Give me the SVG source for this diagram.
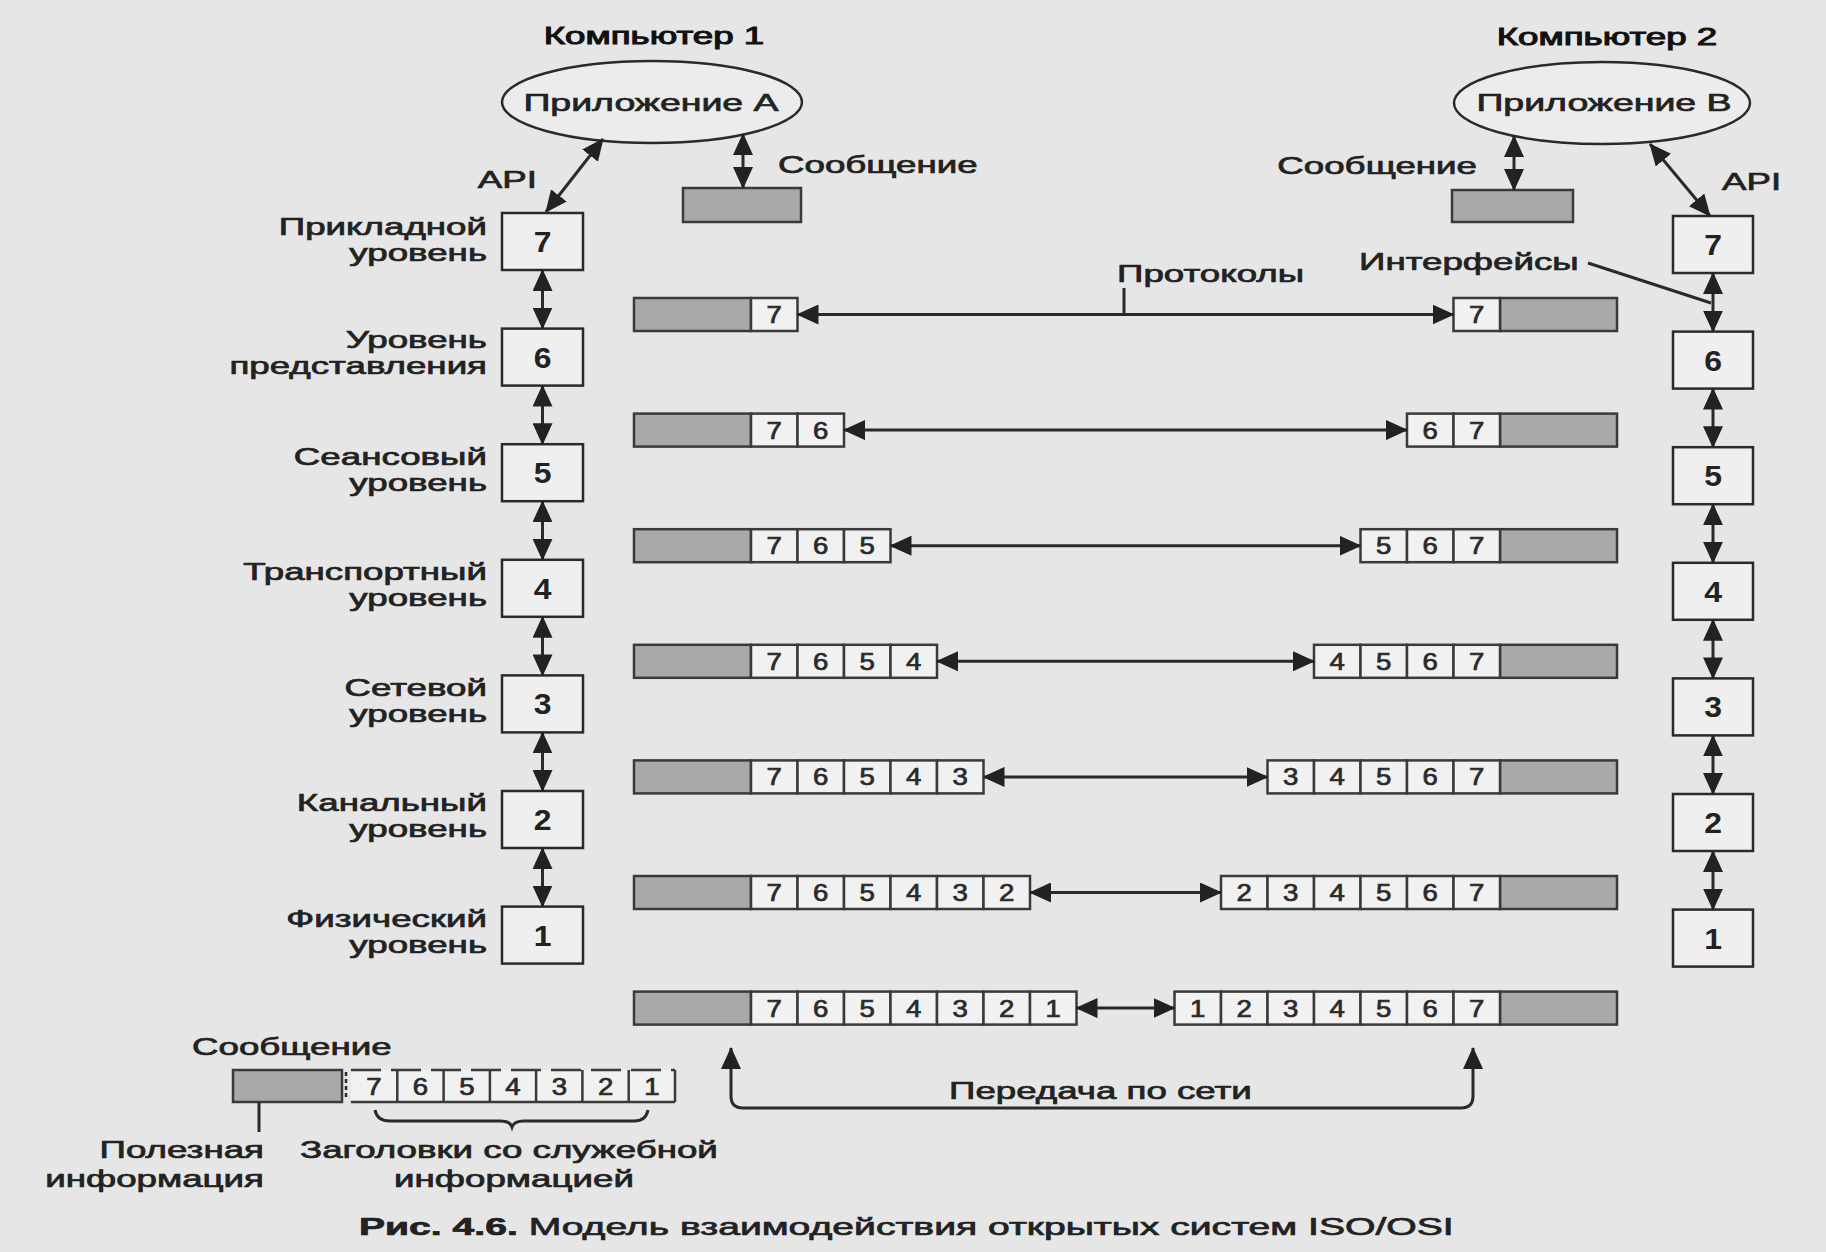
<svg xmlns="http://www.w3.org/2000/svg" width="1826" height="1252" viewBox="0 0 1826 1252">
<style>
.t{font-family:"Liberation Sans",Arial,sans-serif;font-size:24px;fill:#222;stroke:#222;stroke-width:0.7}
.tt{font-family:"Liberation Sans",Arial,sans-serif;font-size:24px;fill:#111;stroke:#111;stroke-width:1}
.bd{font-family:"Liberation Sans",Arial,sans-serif;font-size:29px;font-weight:bold;fill:#222;text-anchor:middle}
.d{font-family:"Liberation Sans",Arial,sans-serif;font-size:23px;fill:#2a2a2a;stroke:#2a2a2a;stroke-width:0.7;text-anchor:middle}
.box{fill:#efefef;stroke:#2a2a2a;stroke-width:2.5}
.gray{fill:#a9a9a9;stroke:#3a3a3a;stroke-width:2.5}
.cell{fill:#f1f1f1;stroke:#3a3a3a;stroke-width:2.5}
.ell{fill:#ececec;stroke:#2a2a2a;stroke-width:2.5}
.ln{fill:none;stroke:#2a2a2a;stroke-width:3}
.ar{fill:none;stroke:#2a2a2a;stroke-width:3;marker-start:url(#ah);marker-end:url(#ah)}
</style>
<defs>
<marker id="ah" viewBox="0 0 22 20" refX="21" refY="10" markerWidth="22" markerHeight="20" markerUnits="userSpaceOnUse" orient="auto-start-reverse"><path d="M0,0 L22,10 L0,20 z" fill="#222"/></marker>
</defs>
<rect x="0" y="0" width="1826" height="1252" fill="#e6e6e6"/>

<!-- Titles -->
<g id="titles">
<text class="tt" transform="translate(654,44) scale(1.53,1)" text-anchor="middle">Компьютер 1</text>
<text class="tt" transform="translate(1607,45) scale(1.53,1)" text-anchor="middle">Компьютер 2</text>
</g>

<!-- Applications -->
<g id="appA">
<ellipse class="ell" cx="652" cy="102" rx="150" ry="41"/>
<text class="t" transform="translate(651,111) scale(1.53,1)" text-anchor="middle" style="font-size:24.5px">Приложение A</text>
</g>
<g id="appB">
<ellipse class="ell" cx="1602" cy="103" rx="148" ry="41"/>
<text class="t" transform="translate(1604,111) scale(1.53,1)" text-anchor="middle" style="font-size:24.5px">Приложение B</text>
</g>

<!-- Messages on top -->
<g id="msgA">
<rect class="gray" x="683" y="188" width="118" height="34"/>
<text class="t" transform="translate(778,173) scale(1.53,1)">Сообщение</text>
</g>
<g id="msgB">
<rect class="gray" x="1452" y="190" width="121" height="32"/>
<text class="t" transform="translate(1477,174) scale(1.53,1)" text-anchor="end">Сообщение</text>
</g>

<g id="labels">
<text class="t" transform="translate(537,188) scale(1.53,1)" text-anchor="end">API</text>
<text class="t" transform="translate(1722,190) scale(1.53,1)">API</text>
<text class="t" transform="translate(1117,282) scale(1.53,1)">Протоколы</text>
<text class="t" transform="translate(1359,270) scale(1.53,1)">Интерфейсы</text>
</g>

<!-- Computer 1 stack -->
<g id="c1-l7"><rect class="box" x="502" y="213" width="81" height="57"/><text class="bd" transform="translate(542.5,252) scale(1.1,1)">7</text>
<text class="t" transform="translate(487,235) scale(1.53,1)" text-anchor="end">Прикладной</text><text class="t" transform="translate(487,261) scale(1.53,1)" text-anchor="end">уровень</text></g>
<g id="c1-l6"><rect class="box" x="502" y="328.6" width="81" height="57"/><text class="bd" transform="translate(542.5,367.6) scale(1.1,1)">6</text>
<text class="t" transform="translate(487,348) scale(1.53,1)" text-anchor="end">Уровень</text><text class="t" transform="translate(487,374) scale(1.53,1)" text-anchor="end">представления</text></g>
<g id="c1-l5"><rect class="box" x="502" y="444.2" width="81" height="57"/><text class="bd" transform="translate(542.5,483.2) scale(1.1,1)">5</text>
<text class="t" transform="translate(487,465) scale(1.53,1)" text-anchor="end">Сеансовый</text><text class="t" transform="translate(487,491) scale(1.53,1)" text-anchor="end">уровень</text></g>
<g id="c1-l4"><rect class="box" x="502" y="559.8" width="81" height="57"/><text class="bd" transform="translate(542.5,598.8) scale(1.1,1)">4</text>
<text class="t" transform="translate(487,580) scale(1.53,1)" text-anchor="end">Транспортный</text><text class="t" transform="translate(487,606) scale(1.53,1)" text-anchor="end">уровень</text></g>
<g id="c1-l3"><rect class="box" x="502" y="675.4" width="81" height="57"/><text class="bd" transform="translate(542.5,714.4) scale(1.1,1)">3</text>
<text class="t" transform="translate(487,696) scale(1.53,1)" text-anchor="end">Сетевой</text><text class="t" transform="translate(487,722) scale(1.53,1)" text-anchor="end">уровень</text></g>
<g id="c1-l2"><rect class="box" x="502" y="791" width="81" height="57"/><text class="bd" transform="translate(542.5,830) scale(1.1,1)">2</text>
<text class="t" transform="translate(487,811) scale(1.53,1)" text-anchor="end">Канальный</text><text class="t" transform="translate(487,837) scale(1.53,1)" text-anchor="end">уровень</text></g>
<g id="c1-l1"><rect class="box" x="502" y="906.6" width="81" height="57"/><text class="bd" transform="translate(542.5,945.6) scale(1.1,1)">1</text>
<text class="t" transform="translate(487,927) scale(1.53,1)" text-anchor="end">Физический</text><text class="t" transform="translate(487,953) scale(1.53,1)" text-anchor="end">уровень</text></g>

<!-- Computer 2 stack -->
<g id="c2-l7"><rect class="box" x="1673" y="216" width="80" height="57"/><text class="bd" transform="translate(1713,255) scale(1.1,1)">7</text></g>
<g id="c2-l6"><rect class="box" x="1673" y="331.6" width="80" height="57"/><text class="bd" transform="translate(1713,370.6) scale(1.1,1)">6</text></g>
<g id="c2-l5"><rect class="box" x="1673" y="447.2" width="80" height="57"/><text class="bd" transform="translate(1713,486.2) scale(1.1,1)">5</text></g>
<g id="c2-l4"><rect class="box" x="1673" y="562.8" width="80" height="57"/><text class="bd" transform="translate(1713,601.8) scale(1.1,1)">4</text></g>
<g id="c2-l3"><rect class="box" x="1673" y="678.4" width="80" height="57"/><text class="bd" transform="translate(1713,717.4) scale(1.1,1)">3</text></g>
<g id="c2-l2"><rect class="box" x="1673" y="794" width="80" height="57"/><text class="bd" transform="translate(1713,833) scale(1.1,1)">2</text></g>
<g id="c2-l1"><rect class="box" x="1673" y="909.6" width="80" height="57"/><text class="bd" transform="translate(1713,948.6) scale(1.1,1)">1</text></g>

<!-- Packets, left side -->
<g id="pkt-left">
<g><rect class="gray" x="634" y="298" width="117" height="33"/><rect class="cell" x="751" y="298" width="46.5" height="33"/>
<text class="d" transform="translate(774.25,323) scale(1.2,1)">7</text></g>
<g><rect class="gray" x="634" y="413.6" width="117" height="33"/><rect class="cell" x="751" y="413.6" width="46.5" height="33"/><rect class="cell" x="797.5" y="413.6" width="46.5" height="33"/>
<text class="d" transform="translate(774.25,438.6) scale(1.2,1)">7</text><text class="d" transform="translate(820.75,438.6) scale(1.2,1)">6</text></g>
<g><rect class="gray" x="634" y="529.2" width="117" height="33"/><rect class="cell" x="751" y="529.2" width="46.5" height="33"/><rect class="cell" x="797.5" y="529.2" width="46.5" height="33"/><rect class="cell" x="844" y="529.2" width="46.5" height="33"/>
<text class="d" transform="translate(774.25,554.2) scale(1.2,1)">7</text><text class="d" transform="translate(820.75,554.2) scale(1.2,1)">6</text><text class="d" transform="translate(867.25,554.2) scale(1.2,1)">5</text></g>
<g><rect class="gray" x="634" y="644.8" width="117" height="33"/><rect class="cell" x="751" y="644.8" width="46.5" height="33"/><rect class="cell" x="797.5" y="644.8" width="46.5" height="33"/><rect class="cell" x="844" y="644.8" width="46.5" height="33"/><rect class="cell" x="890.5" y="644.8" width="46.5" height="33"/>
<text class="d" transform="translate(774.25,669.8) scale(1.2,1)">7</text><text class="d" transform="translate(820.75,669.8) scale(1.2,1)">6</text><text class="d" transform="translate(867.25,669.8) scale(1.2,1)">5</text><text class="d" transform="translate(913.75,669.8) scale(1.2,1)">4</text></g>
<g><rect class="gray" x="634" y="760.4" width="117" height="33"/><rect class="cell" x="751" y="760.4" width="46.5" height="33"/><rect class="cell" x="797.5" y="760.4" width="46.5" height="33"/><rect class="cell" x="844" y="760.4" width="46.5" height="33"/><rect class="cell" x="890.5" y="760.4" width="46.5" height="33"/><rect class="cell" x="937" y="760.4" width="46.5" height="33"/>
<text class="d" transform="translate(774.25,785.4) scale(1.2,1)">7</text><text class="d" transform="translate(820.75,785.4) scale(1.2,1)">6</text><text class="d" transform="translate(867.25,785.4) scale(1.2,1)">5</text><text class="d" transform="translate(913.75,785.4) scale(1.2,1)">4</text><text class="d" transform="translate(960.25,785.4) scale(1.2,1)">3</text></g>
<g><rect class="gray" x="634" y="876" width="117" height="33"/><rect class="cell" x="751" y="876" width="46.5" height="33"/><rect class="cell" x="797.5" y="876" width="46.5" height="33"/><rect class="cell" x="844" y="876" width="46.5" height="33"/><rect class="cell" x="890.5" y="876" width="46.5" height="33"/><rect class="cell" x="937" y="876" width="46.5" height="33"/><rect class="cell" x="983.5" y="876" width="46.5" height="33"/>
<text class="d" transform="translate(774.25,901) scale(1.2,1)">7</text><text class="d" transform="translate(820.75,901) scale(1.2,1)">6</text><text class="d" transform="translate(867.25,901) scale(1.2,1)">5</text><text class="d" transform="translate(913.75,901) scale(1.2,1)">4</text><text class="d" transform="translate(960.25,901) scale(1.2,1)">3</text><text class="d" transform="translate(1006.75,901) scale(1.2,1)">2</text></g>
<g><rect class="gray" x="634" y="991.6" width="117" height="33"/><rect class="cell" x="751" y="991.6" width="46.5" height="33"/><rect class="cell" x="797.5" y="991.6" width="46.5" height="33"/><rect class="cell" x="844" y="991.6" width="46.5" height="33"/><rect class="cell" x="890.5" y="991.6" width="46.5" height="33"/><rect class="cell" x="937" y="991.6" width="46.5" height="33"/><rect class="cell" x="983.5" y="991.6" width="46.5" height="33"/><rect class="cell" x="1030" y="991.6" width="46.5" height="33"/>
<text class="d" transform="translate(774.25,1016.6) scale(1.2,1)">7</text><text class="d" transform="translate(820.75,1016.6) scale(1.2,1)">6</text><text class="d" transform="translate(867.25,1016.6) scale(1.2,1)">5</text><text class="d" transform="translate(913.75,1016.6) scale(1.2,1)">4</text><text class="d" transform="translate(960.25,1016.6) scale(1.2,1)">3</text><text class="d" transform="translate(1006.75,1016.6) scale(1.2,1)">2</text><text class="d" transform="translate(1053.25,1016.6) scale(1.2,1)">1</text></g>
</g>

<!-- Packets, right side -->
<g id="pkt-right">
<g><rect class="gray" x="1500" y="298" width="117" height="33"/><rect class="cell" x="1453.5" y="298" width="46.5" height="33"/>
<text class="d" transform="translate(1476.75,323) scale(1.2,1)">7</text></g>
<g><rect class="gray" x="1500" y="413.6" width="117" height="33"/><rect class="cell" x="1407" y="413.6" width="46.5" height="33"/><rect class="cell" x="1453.5" y="413.6" width="46.5" height="33"/>
<text class="d" transform="translate(1430.25,438.6) scale(1.2,1)">6</text><text class="d" transform="translate(1476.75,438.6) scale(1.2,1)">7</text></g>
<g><rect class="gray" x="1500" y="529.2" width="117" height="33"/><rect class="cell" x="1360.5" y="529.2" width="46.5" height="33"/><rect class="cell" x="1407" y="529.2" width="46.5" height="33"/><rect class="cell" x="1453.5" y="529.2" width="46.5" height="33"/>
<text class="d" transform="translate(1383.75,554.2) scale(1.2,1)">5</text><text class="d" transform="translate(1430.25,554.2) scale(1.2,1)">6</text><text class="d" transform="translate(1476.75,554.2) scale(1.2,1)">7</text></g>
<g><rect class="gray" x="1500" y="644.8" width="117" height="33"/><rect class="cell" x="1314" y="644.8" width="46.5" height="33"/><rect class="cell" x="1360.5" y="644.8" width="46.5" height="33"/><rect class="cell" x="1407" y="644.8" width="46.5" height="33"/><rect class="cell" x="1453.5" y="644.8" width="46.5" height="33"/>
<text class="d" transform="translate(1337.25,669.8) scale(1.2,1)">4</text><text class="d" transform="translate(1383.75,669.8) scale(1.2,1)">5</text><text class="d" transform="translate(1430.25,669.8) scale(1.2,1)">6</text><text class="d" transform="translate(1476.75,669.8) scale(1.2,1)">7</text></g>
<g><rect class="gray" x="1500" y="760.4" width="117" height="33"/><rect class="cell" x="1267.5" y="760.4" width="46.5" height="33"/><rect class="cell" x="1314" y="760.4" width="46.5" height="33"/><rect class="cell" x="1360.5" y="760.4" width="46.5" height="33"/><rect class="cell" x="1407" y="760.4" width="46.5" height="33"/><rect class="cell" x="1453.5" y="760.4" width="46.5" height="33"/>
<text class="d" transform="translate(1290.75,785.4) scale(1.2,1)">3</text><text class="d" transform="translate(1337.25,785.4) scale(1.2,1)">4</text><text class="d" transform="translate(1383.75,785.4) scale(1.2,1)">5</text><text class="d" transform="translate(1430.25,785.4) scale(1.2,1)">6</text><text class="d" transform="translate(1476.75,785.4) scale(1.2,1)">7</text></g>
<g><rect class="gray" x="1500" y="876" width="117" height="33"/><rect class="cell" x="1221" y="876" width="46.5" height="33"/><rect class="cell" x="1267.5" y="876" width="46.5" height="33"/><rect class="cell" x="1314" y="876" width="46.5" height="33"/><rect class="cell" x="1360.5" y="876" width="46.5" height="33"/><rect class="cell" x="1407" y="876" width="46.5" height="33"/><rect class="cell" x="1453.5" y="876" width="46.5" height="33"/>
<text class="d" transform="translate(1244.25,901) scale(1.2,1)">2</text><text class="d" transform="translate(1290.75,901) scale(1.2,1)">3</text><text class="d" transform="translate(1337.25,901) scale(1.2,1)">4</text><text class="d" transform="translate(1383.75,901) scale(1.2,1)">5</text><text class="d" transform="translate(1430.25,901) scale(1.2,1)">6</text><text class="d" transform="translate(1476.75,901) scale(1.2,1)">7</text></g>
<g><rect class="gray" x="1500" y="991.6" width="117" height="33"/><rect class="cell" x="1174.5" y="991.6" width="46.5" height="33"/><rect class="cell" x="1221" y="991.6" width="46.5" height="33"/><rect class="cell" x="1267.5" y="991.6" width="46.5" height="33"/><rect class="cell" x="1314" y="991.6" width="46.5" height="33"/><rect class="cell" x="1360.5" y="991.6" width="46.5" height="33"/><rect class="cell" x="1407" y="991.6" width="46.5" height="33"/><rect class="cell" x="1453.5" y="991.6" width="46.5" height="33"/>
<text class="d" transform="translate(1197.75,1016.6) scale(1.2,1)">1</text><text class="d" transform="translate(1244.25,1016.6) scale(1.2,1)">2</text><text class="d" transform="translate(1290.75,1016.6) scale(1.2,1)">3</text><text class="d" transform="translate(1337.25,1016.6) scale(1.2,1)">4</text><text class="d" transform="translate(1383.75,1016.6) scale(1.2,1)">5</text><text class="d" transform="translate(1430.25,1016.6) scale(1.2,1)">6</text><text class="d" transform="translate(1476.75,1016.6) scale(1.2,1)">7</text></g>
</g>

<!-- Legend -->
<g id="legend">
<text class="t" transform="translate(192,1055) scale(1.53,1)">Сообщение</text>
<rect class="gray" x="233" y="1070" width="109" height="32"/>
<line x1="346" y1="1072" x2="346" y2="1100" stroke="#2a2a2a" stroke-width="2.5" stroke-dasharray="4,3"/>
<rect x="351" y="1070" width="324" height="32" fill="#f1f1f1"/>
<line x1="351" y1="1070" x2="675" y2="1070" stroke="#3a3a3a" stroke-width="2.5" stroke-dasharray="30,10"/>
<line x1="351" y1="1102" x2="675" y2="1102" stroke="#3a3a3a" stroke-width="2.5"/>
<path d="M397.3,1070V1102M443.6,1070V1102M489.9,1070V1102M536.1,1070V1102M582.4,1070V1102M628.7,1070V1102M675,1070V1102" stroke="#3a3a3a" stroke-width="2.5" fill="none"/>
<text class="d" transform="translate(374,1094.5) scale(1.2,1)">7</text><text class="d" transform="translate(420.5,1094.5) scale(1.2,1)">6</text><text class="d" transform="translate(466.8,1094.5) scale(1.2,1)">5</text><text class="d" transform="translate(513,1094.5) scale(1.2,1)">4</text><text class="d" transform="translate(559.3,1094.5) scale(1.2,1)">3</text><text class="d" transform="translate(605.6,1094.5) scale(1.2,1)">2</text><text class="d" transform="translate(651.9,1094.5) scale(1.2,1)">1</text>
<line class="ln" x1="259" y1="1102" x2="259" y2="1132" stroke-width="2"/>
<path class="ln" stroke-width="2" d="M375,1110 Q377,1121 390,1121 H500 Q510,1121 512,1127 Q514,1121 524,1121 H634 Q646,1121 648,1110"/>
<text class="t" transform="translate(264,1158) scale(1.53,1)" text-anchor="end">Полезная</text>
<text class="t" transform="translate(264,1187) scale(1.53,1)" text-anchor="end">информация</text>
<text class="t" transform="translate(300,1158) scale(1.53,1)">Заголовки со служебной</text>
<text class="t" transform="translate(514,1187) scale(1.53,1)" text-anchor="middle">информацией</text>
<text class="t" transform="translate(949,1099) scale(1.53,1)">Передача по сети</text>
</g>

<!-- Caption -->
<g id="caption">
<text class="t" transform="translate(359,1235) scale(1.63,1)"><tspan font-weight="bold">Рис. 4.6.</tspan> Модель взаимодействия открытых систем ISO/OSI</text>
</g>

<!-- Connectors -->
<g id="connectors">
<line class="ar" x1="603" y1="139" x2="546" y2="212"/>
<line class="ar" x1="1650" y1="144" x2="1710" y2="216"/>
<line class="ar" x1="743" y1="134" x2="743" y2="188"/>
<line class="ar" x1="1514" y1="136" x2="1514" y2="190"/>
<line class="ar" x1="542.5" y1="270" x2="542.5" y2="328.6"/>
<line class="ar" x1="542.5" y1="385.6" x2="542.5" y2="444.2"/>
<line class="ar" x1="542.5" y1="501.2" x2="542.5" y2="559.8"/>
<line class="ar" x1="542.5" y1="616.8" x2="542.5" y2="675.4"/>
<line class="ar" x1="542.5" y1="732.4" x2="542.5" y2="791"/>
<line class="ar" x1="542.5" y1="848" x2="542.5" y2="906.6"/>
<line class="ar" x1="1713" y1="273" x2="1713" y2="331.6"/>
<line class="ar" x1="1713" y1="388.6" x2="1713" y2="447.2"/>
<line class="ar" x1="1713" y1="504.2" x2="1713" y2="562.8"/>
<line class="ar" x1="1713" y1="619.8" x2="1713" y2="678.4"/>
<line class="ar" x1="1713" y1="735.4" x2="1713" y2="794"/>
<line class="ar" x1="1713" y1="851" x2="1713" y2="909.6"/>
<line class="ar" x1="797.5" y1="314.5" x2="1453.5" y2="314.5"/>
<line class="ar" x1="844" y1="430.1" x2="1407" y2="430.1"/>
<line class="ar" x1="890.5" y1="545.7" x2="1360.5" y2="545.7"/>
<line class="ar" x1="937" y1="661.3" x2="1314" y2="661.3"/>
<line class="ar" x1="983.5" y1="776.9" x2="1267.5" y2="776.9"/>
<line class="ar" x1="1030" y1="892.5" x2="1221" y2="892.5"/>
<line class="ar" x1="1076.5" y1="1008.1" x2="1174.5" y2="1008.1"/>
<line class="ln" x1="1124" y1="288" x2="1124" y2="314.5" stroke-width="2.5"/>
<line class="ln" x1="1588" y1="263" x2="1711" y2="303" stroke-width="2.5"/>
<path class="ar" d="M731,1048 V1096 Q731,1108 743,1108 H1461 Q1473,1108 1473,1096 V1048"/>
</g>
</svg>
